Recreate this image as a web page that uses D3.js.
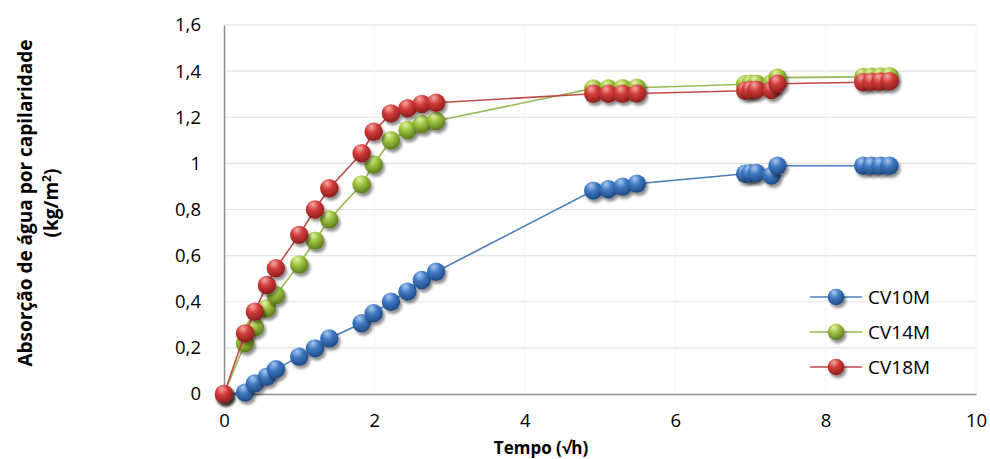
<!DOCTYPE html>
<html><head><meta charset="utf-8">
<script src="https://cdn.jsdelivr.net/npm/d3@7"></script>
<style>body{margin:0;background:#fff;} text{font-family:"Open Sans","Liberation Sans",sans-serif;}</style>
</head><body><svg id="c" width="990" height="459"></svg>
<script>
const xValues = [0, 0.28, 0.41, 0.57, 0.69, 1.0, 1.21, 1.40, 1.83, 1.99, 2.22, 2.44, 2.63, 2.82, 4.91, 5.11, 5.30, 5.49, 6.93, 7.0, 7.08, 7.28, 7.36, 8.50, 8.61, 8.73, 8.85];
const cv10 = [0, 0.006, 0.046, 0.075, 0.107, 0.162, 0.198, 0.241, 0.307, 0.35, 0.40, 0.444, 0.494, 0.53, 0.882, 0.888, 0.899, 0.912, 0.955, 0.957, 0.958, 0.947, 0.99, 0.99, 0.99, 0.99, 0.99];
const cv14 = [0, 0.22, 0.289, 0.372, 0.429, 0.562, 0.665, 0.757, 0.909, 0.995, 1.10, 1.145, 1.17, 1.184, 1.325, 1.325, 1.326, 1.328, 1.343, 1.345, 1.346, 1.348, 1.372, 1.375, 1.376, 1.377, 1.378];
const cv18 = [0, 0.263, 0.357, 0.473, 0.545, 0.69, 0.80, 0.892, 1.044, 1.137, 1.217, 1.239, 1.258, 1.263, 1.302, 1.302, 1.302, 1.303, 1.315, 1.318, 1.320, 1.318, 1.345, 1.352, 1.354, 1.355, 1.356];
const seriesNames = ["CV10M", "CV14M", "CV18M"];
const yTicks = [0, 0.2, 0.4, 0.6, 0.8, 1, 1.2, 1.4, 1.6];
const xTicks = [0, 2, 4, 6, 8, 10];

const colors = {CV10M:{line:"#4a7ebb", light:"#a9c8f0", mid:"#3f78c4", dark:"#1f4a82"},
                CV14M:{line:"#98b954", light:"#e4f2a8", mid:"#9bc23c", dark:"#5c7a1e"},
                CV18M:{line:"#be4b48", light:"#f5a8a6", mid:"#d13b38", dark:"#8a1e1c"}};
const data = [cv10, cv14, cv18];

const svg = d3.select("#c");
const x = d3.scaleLinear().domain([0, 10]).range([224, 976]);
const y = d3.scaleLinear().domain([0, 1.6]).range([394, 25]);
const fmt = v => String(v).replace(".", ",");

const defs = svg.append("defs");
const f = defs.append("filter").attr("id","sh").attr("x","-50%").attr("y","-50%").attr("width","200%").attr("height","200%");
f.append("feGaussianBlur").attr("in","SourceAlpha").attr("stdDeviation",1.6).attr("result","b");
f.append("feOffset").attr("in","b").attr("dx",1.5).attr("dy",2.5).attr("result","o");
f.append("feComponentTransfer").attr("in","o").attr("result","o2").append("feFuncA").attr("type","linear").attr("slope",0.45);
const m = f.append("feMerge"); m.append("feMergeNode").attr("in","o2"); m.append("feMergeNode").attr("in","SourceGraphic");
seriesNames.forEach((n,i)=>{
  const g = defs.append("radialGradient").attr("id","g"+i).attr("cx","40%").attr("cy","30%").attr("r","70%").attr("fx","38%").attr("fy","22%");
  g.append("stop").attr("offset","0%").attr("stop-color",colors[n].light);
  g.append("stop").attr("offset","45%").attr("stop-color",colors[n].mid);
  g.append("stop").attr("offset","100%").attr("stop-color",colors[n].dark);
});

// gridlines
svg.append("g").selectAll("line").data(yTicks.filter(t=>t>0)).join("line")
  .attr("x1",224).attr("x2",976).attr("y1",d=>y(d)).attr("y2",d=>y(d))
  .attr("stroke","#e2e2e2").attr("stroke-width",1.2);
svg.append("g").selectAll("line").data(xTicks.filter(t=>t>0)).join("line")
  .attr("x1",d=>x(d)).attr("x2",d=>x(d)).attr("y1",25).attr("y2",394)
  .attr("stroke","#f5f5f5").attr("stroke-width",1);

// axes
const yAxis = svg.append("g").attr("transform","translate(224,0)")
  .call(d3.axisLeft(y).tickValues(yTicks).tickFormat(fmt).tickSize(0).tickPadding(23));
yAxis.select(".domain").attr("stroke","#8c8c8c").attr("stroke-width",1.5);
yAxis.selectAll("text").attr("font-size",18.5).attr("fill","#000");
const xAxis = svg.append("g").attr("transform","translate(0,394)")
  .call(d3.axisBottom(x).tickValues(xTicks).tickFormat(fmt).tickSize(0).tickPadding(20));
xAxis.select(".domain").attr("stroke","#8c8c8c").attr("stroke-width",1.5);
xAxis.selectAll("text").attr("font-size",18.5).attr("fill","#000");

// titles
svg.append("text").attr("x",541).attr("y",454).attr("text-anchor","middle")
  .attr("font-weight","bold").attr("font-size",17).text("Tempo (√h)");
const yt = svg.append("text").attr("transform","translate(0,203) rotate(-90)").attr("text-anchor","middle")
  .attr("font-weight","bold").attr("font-size",19);
yt.append("tspan").attr("x",0).attr("y",32).text("Absorção de água por capilaridade");
const t2 = yt.append("tspan").attr("x",0).attr("y",58);
t2.append("tspan").text("(kg/m");
t2.append("tspan").attr("dy",-7).attr("font-size",12).text("2");
t2.append("tspan").attr("dy",7).text(")");

// series
const line = d3.line().x((d,i)=>x(xValues[i])).y(d=>y(d));
seriesNames.forEach((n,i)=>{
  const g = svg.append("g");
  g.append("path").datum(data[i]).attr("d",line).attr("fill","none")
    .attr("stroke",colors[n].line).attr("stroke-width",1.6);
  g.selectAll("circle").data(data[i]).join("circle")
    .attr("cx",(d,j)=>x(xValues[j])).attr("cy",d=>y(d)).attr("r",9.2)
    .attr("fill","url(#g"+i+")").attr("filter","url(#sh)");
});

// legend
seriesNames.forEach((n,i)=>{
  const ly = 297 + i*35;
  const g = svg.append("g");
  g.append("line").attr("x1",810).attr("x2",862).attr("y1",ly).attr("y2",ly)
    .attr("stroke",colors[n].line).attr("stroke-width",1.6);
  g.append("circle").attr("cx",836).attr("cy",ly).attr("r",8.3)
    .attr("fill","url(#g"+i+")").attr("filter","url(#sh)");
  g.append("text").attr("x",868).attr("y",ly+7).attr("font-size",19).text(n);
});
</script></body></html>
